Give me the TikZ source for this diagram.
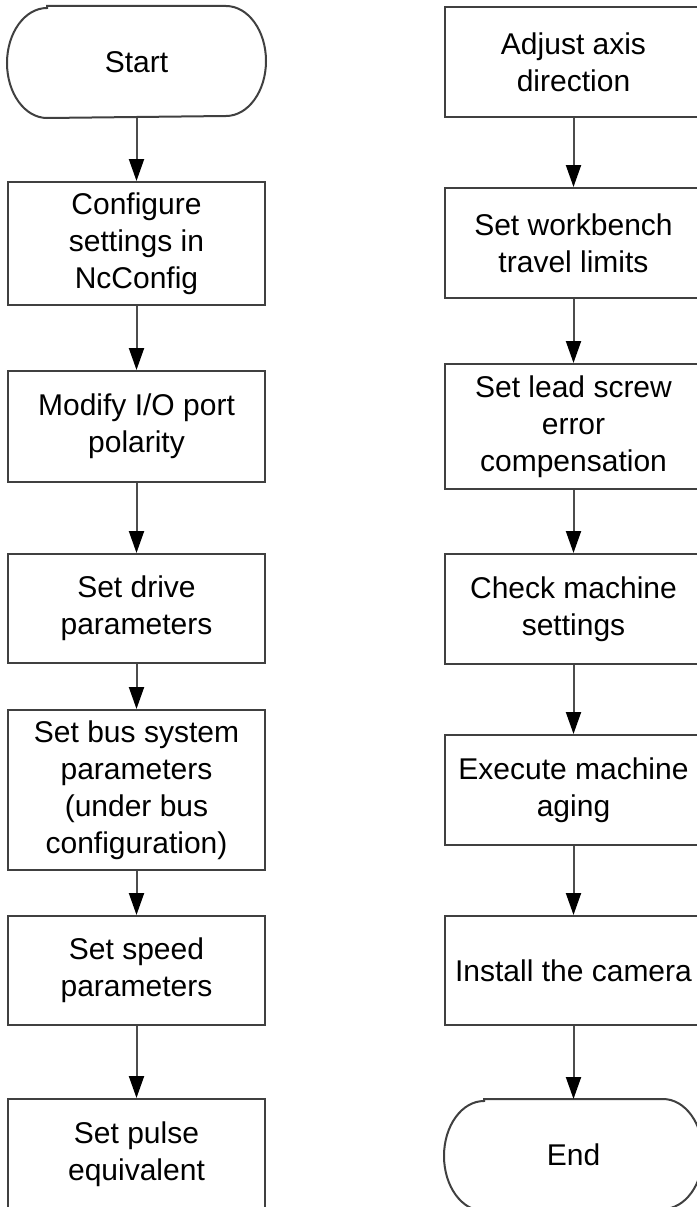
\documentclass[tikz,border=0pt]{standalone}
\usepackage{fontspec}
\setmainfont{Liberation Sans}
\usetikzlibrary{arrows.meta}

\begin{document}
\begin{tikzpicture}[x=1pt,y=-1pt]
\tikzset{box/.style = {shape=rectangle,draw=black!75,line width=2pt,minimum width=257pt,inner sep=0pt,align=center,font=\fontsize{30}{37}\selectfont}}
\tikzset{term/.style = {box,draw=none,minimum height=110pt}}
\tikzset{edge/.style = {draw=black!70,line width=2pt,-{Triangle[length=22pt,width=15pt,color=black]}}}
\useasboundingbox (0,0) rectangle (696,1207);

%vertices
\node[term] (start) at (136.5,62) {Start};
\node[box, minimum height=123pt] (config) at (136.5,243.5) {Configure\\settings in\\NcConfig};
\node[box, minimum height=111pt] (polar) at (136.5,426.5) {Modify I/O port\\polarity};
\node[box, minimum height=109pt] (drive) at (136.5,608.5) {Set drive\\parameters};
\node[box, minimum height=160pt] (bus) at (136.5,790) {Set bus system\\parameters\\(under bus\\configuration)};
\node[box, minimum height=109pt] (speed) at (136.5,970.5) {Set speed\\parameters};
\node[box, minimum height=110pt] (pulse) at (136.5,1154) {Set pulse\\equivalent};

\node[box, minimum height=110pt] (axis) at (573.5,62) {Adjust axis\\direction};
\node[box, minimum height=110pt] (limits) at (573.5,243) {Set workbench\\travel limits};
\node[box, minimum height=125pt] (screw) at (573.5,426.5) {Set lead screw\\error\\compensation};
\node[box, minimum height=110pt] (check) at (573.5,609) {Check machine\\settings};
\node[box, minimum height=110pt] (aging) at (573.5,790) {Execute machine\\aging};
\node[box, minimum height=109pt] (camera) at (573.5,970.5) {Install the camera};
\node[term] (finish) at (573.5,1155) {End};

%terminal outlines
\draw[draw=black!75,line width=2pt] ([xshift=40pt]start.north west) -- ([xshift=-40pt]start.north east)
  arc[start angle=90,end angle=-90,x radius=40pt,y radius=55pt] -- ([xshift=40pt]start.south west)
  arc[start angle=270,end angle=90,x radius=40pt,y radius=55pt] -- cycle;
\draw[draw=black!75,line width=2pt] ([xshift=40pt]finish.north west) -- ([xshift=-40pt]finish.north east)
  arc[start angle=90,end angle=-90,x radius=40pt,y radius=55pt] -- ([xshift=40pt]finish.south west)
  arc[start angle=270,end angle=90,x radius=40pt,y radius=55pt] -- cycle;

%edges
\draw[edge] (start) -- (config);
\draw[edge] (config) -- (polar);
\draw[edge] (polar) -- (drive);
\draw[edge] (drive) -- (bus);
\draw[edge] (bus) -- (speed);
\draw[edge] (speed) -- (pulse);
\draw[edge] (axis) -- (limits);
\draw[edge] (limits) -- (screw);
\draw[edge] (screw) -- (check);
\draw[edge] (check) -- (aging);
\draw[edge] (aging) -- (camera);
\draw[edge] (camera) -- (finish);

\end{tikzpicture}
\end{document}
